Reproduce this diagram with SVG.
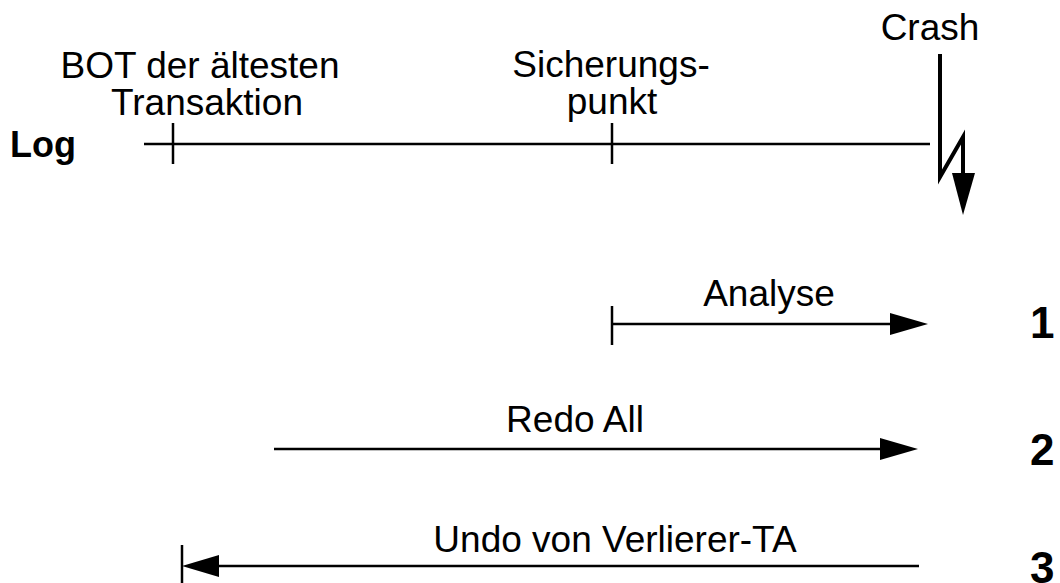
<svg xmlns="http://www.w3.org/2000/svg" width="1060" height="583" viewBox="0 0 1060 583">
<style>
text{font-family:"Liberation Sans",Arial,sans-serif;font-size:37px;fill:#000}
.b{font-weight:bold;font-size:36px}
.n{font-weight:bold;font-size:44px}
.l{stroke:#000;stroke-width:2.5;fill:none}
.t{stroke:#000;stroke-width:4;fill:none;stroke-linejoin:miter}
.h{fill:#000;stroke:none}
</style>
<rect width="1060" height="583" fill="#fff"/>
<g id="log">
<text class="b" x="10" y="157">Log</text>
<line class="l" x1="144" y1="144" x2="930" y2="144"/>
</g>
<g id="bot">
<line class="l" x1="173" y1="123" x2="173" y2="164"/>
<text x="200" y="78" text-anchor="middle">BOT der ältesten</text>
<text x="207" y="115" text-anchor="middle">Transaktion</text>
</g>
<g id="sicherungspunkt">
<line class="l" x1="612" y1="123" x2="612" y2="164"/>
<text x="611" y="77" text-anchor="middle">Sicherungs-</text>
<text x="612" y="114" text-anchor="middle">punkt</text>
</g>
<g id="crash">
<text x="930" y="40" text-anchor="middle">Crash</text>
<polyline class="t" points="940,54 940,177 963,137 963,175"/>
<polygon class="h" points="952,173 975,173 963,215"/>
</g>
<g id="connectors">
<g id="analyse">
<line class="l" x1="612" y1="306" x2="612" y2="345"/>
<line class="l" x1="612" y1="324" x2="892" y2="324"/>
<polygon class="h" points="890,313 928,324 890,335"/>
<text x="769" y="306" text-anchor="middle">Analyse</text>
</g>
<g id="redo">
<line class="l" x1="274" y1="449" x2="882" y2="449"/>
<polygon class="h" points="880,438 918,449 880,460"/>
<text x="575" y="432" text-anchor="middle">Redo All</text>
</g>
<g id="undo">
<line class="l" x1="182" y1="545" x2="182" y2="583"/>
<line class="l" x1="217" y1="566" x2="919" y2="566"/>
<polygon class="h" points="219,555 182,566 219,577"/>
<text x="615" y="552" text-anchor="middle">Undo von Verlierer-TA</text>
</g>
</g>
<g id="numbers">
<text class="n" x="1030" y="338">1</text>
<text class="n" x="1030" y="465">2</text>
<text class="n" x="1030" y="583">3</text>
</g>
</svg>
